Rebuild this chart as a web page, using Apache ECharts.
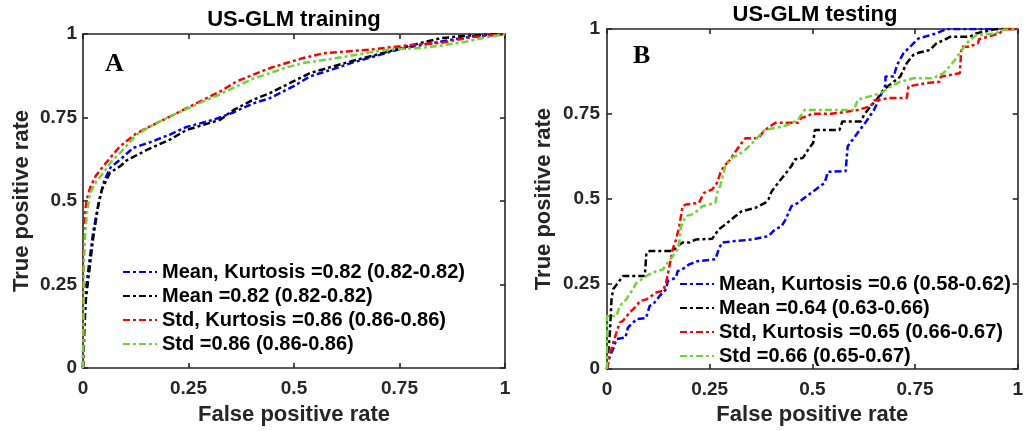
<!DOCTYPE html>
<html><head><meta charset="utf-8">
<script src="https://cdn.jsdelivr.net/npm/echarts@6/dist/echarts.min.js"></script>
<style>html,body{margin:0;padding:0;background:#fff}#c{width:1026px;height:431px}</style>
</head><body><div id="c"></div>
<script>
// ---- data ----
const tickLabels = ['0', '0.25', '0.5', '0.75', '1'];
const panelTitles = ['US-GLM training', 'US-GLM testing'];
const panelLetters = ['A', 'B'];
const xName = 'False positive rate';
const yName = 'True positive rate';

const trainNames = ['Mean, Kurtosis =0.82 (0.82-0.82)', 'Mean =0.82 (0.82-0.82)', 'Std, Kurtosis =0.86 (0.86-0.86)', 'Std =0.86 (0.86-0.86)'];
const testNames = ['Mean, Kurtosis =0.6 (0.58-0.62)', 'Mean =0.64 (0.63-0.66)', 'Std, Kurtosis =0.65 (0.66-0.67)', 'Std =0.66 (0.65-0.67)'];
const seriesColors = ['#0000ff', '#000000', '#ff0000', '#6ed634'];

// training ROC points [fpr, tpr]
const trainMeanKurt = [[0,0],[0.003,0.1],[0.005,0.16],[0.009,0.256],[0.016,0.33],[0.024,0.405],[0.032,0.46],[0.04,0.51],[0.05,0.56],[0.065,0.6],[0.088,0.624],[0.119,0.659],[0.159,0.676],[0.206,0.699],[0.246,0.722],[0.309,0.743],[0.356,0.765],[0.403,0.792],[0.443,0.808],[0.498,0.843],[0.538,0.873],[0.593,0.895],[0.64,0.915],[0.696,0.935],[0.751,0.955],[0.814,0.97],[0.87,0.982],[0.924,0.993],[1,1]];
const trainMean = [[0,0],[0.002,0.12],[0.005,0.19],[0.012,0.26],[0.024,0.388],[0.036,0.487],[0.045,0.535],[0.064,0.585],[0.088,0.604],[0.104,0.622],[0.15,0.652],[0.206,0.684],[0.246,0.713],[0.325,0.743],[0.356,0.772],[0.403,0.803],[0.443,0.823],[0.498,0.858],[0.538,0.883],[0.593,0.903],[0.64,0.92],[0.696,0.938],[0.751,0.957],[0.8,0.973],[0.846,0.987],[0.9,0.994],[0.95,0.997],[1,1]];
const trainStdKurt = [[0,0],[0.001,0.2],[0.002,0.35],[0.004,0.45],[0.008,0.5],[0.017,0.54],[0.03,0.575],[0.048,0.604],[0.065,0.63],[0.088,0.664],[0.127,0.703],[0.166,0.728],[0.206,0.753],[0.246,0.778],[0.285,0.803],[0.325,0.828],[0.364,0.858],[0.403,0.878],[0.443,0.898],[0.482,0.913],[0.522,0.928],[0.569,0.942],[0.62,0.947],[0.68,0.953],[0.74,0.962],[0.8,0.97],[0.846,0.973],[0.917,0.99],[1,1]];
const trainStd = [[0,0],[0.001,0.12],[0.002,0.3],[0.005,0.4],[0.01,0.47],[0.017,0.524],[0.03,0.555],[0.048,0.584],[0.065,0.615],[0.088,0.644],[0.127,0.699],[0.166,0.728],[0.206,0.753],[0.246,0.776],[0.285,0.798],[0.325,0.82],[0.364,0.843],[0.403,0.866],[0.443,0.883],[0.482,0.9],[0.522,0.913],[0.569,0.922],[0.62,0.932],[0.68,0.945],[0.74,0.955],[0.8,0.958],[0.846,0.965],[0.9,0.975],[0.94,0.986],[1,1]];

// testing ROC points [fpr, tpr]
const testMeanKurt = [[0,0],[0.003,0],[0.007,0.039],[0.015,0.059],[0.023,0.088],[0.045,0.093],[0.051,0.122],[0.072,0.147],[0.095,0.15],[0.104,0.186],[0.112,0.19],[0.128,0.215],[0.144,0.235],[0.148,0.259],[0.168,0.269],[0.172,0.288],[0.188,0.297],[0.2,0.308],[0.22,0.317],[0.264,0.323],[0.272,0.352],[0.28,0.372],[0.3,0.375],[0.353,0.381],[0.393,0.391],[0.409,0.411],[0.425,0.42],[0.435,0.44],[0.449,0.479],[0.465,0.489],[0.497,0.518],[0.53,0.548],[0.538,0.58],[0.581,0.582],[0.586,0.655],[0.61,0.694],[0.634,0.733],[0.65,0.762],[0.658,0.782],[0.678,0.836],[0.678,0.86],[0.698,0.86],[0.706,0.894],[0.722,0.929],[0.738,0.948],[0.758,0.972],[0.802,0.987],[0.827,1],[1,1]];
const testMean = [[0,0],[0.003,0.05],[0.007,0.107],[0.011,0.205],[0.015,0.235],[0.027,0.254],[0.039,0.274],[0.092,0.274],[0.096,0.342],[0.104,0.347],[0.16,0.347],[0.172,0.362],[0.184,0.372],[0.2,0.372],[0.216,0.381],[0.256,0.383],[0.272,0.411],[0.288,0.425],[0.313,0.45],[0.328,0.464],[0.361,0.474],[0.385,0.489],[0.393,0.499],[0.401,0.523],[0.417,0.548],[0.433,0.572],[0.449,0.597],[0.457,0.616],[0.477,0.621],[0.49,0.646],[0.502,0.665],[0.506,0.703],[0.566,0.703],[0.573,0.728],[0.618,0.728],[0.626,0.748],[0.642,0.773],[0.658,0.795],[0.674,0.822],[0.698,0.845],[0.714,0.86],[0.73,0.9],[0.746,0.924],[0.758,0.93],[0.786,0.938],[0.802,0.958],[0.818,0.966],[0.835,0.977],[0.883,0.977],[0.899,0.987],[0.947,1],[1,1]];
const testStdKurt = [[0,0],[0.003,0.029],[0.007,0.044],[0.015,0.078],[0.023,0.107],[0.031,0.137],[0.039,0.142],[0.055,0.166],[0.072,0.186],[0.08,0.2],[0.096,0.205],[0.12,0.225],[0.136,0.23],[0.144,0.254],[0.152,0.303],[0.16,0.352],[0.168,0.381],[0.176,0.42],[0.184,0.479],[0.192,0.484],[0.224,0.489],[0.236,0.518],[0.256,0.528],[0.268,0.548],[0.276,0.577],[0.284,0.596],[0.3,0.616],[0.313,0.64],[0.328,0.665],[0.337,0.679],[0.369,0.679],[0.381,0.699],[0.397,0.714],[0.41,0.724],[0.465,0.724],[0.473,0.739],[0.489,0.743],[0.498,0.751],[0.545,0.751],[0.562,0.753],[0.61,0.762],[0.642,0.773],[0.65,0.79],[0.69,0.797],[0.73,0.797],[0.734,0.831],[0.75,0.835],[0.779,0.841],[0.81,0.845],[0.813,0.86],[0.859,0.87],[0.863,0.948],[0.881,0.948],[0.903,0.958],[0.906,0.97],[0.955,0.987],[0.967,1],[1,1]];
const testStd = [[0,0],[0,0.156],[0.023,0.156],[0.031,0.186],[0.047,0.205],[0.063,0.235],[0.072,0.254],[0.096,0.274],[0.12,0.288],[0.136,0.293],[0.148,0.313],[0.16,0.332],[0.172,0.352],[0.176,0.372],[0.18,0.42],[0.192,0.45],[0.208,0.455],[0.224,0.469],[0.232,0.479],[0.264,0.489],[0.268,0.518],[0.276,0.54],[0.288,0.596],[0.304,0.621],[0.32,0.63],[0.337,0.645],[0.35,0.66],[0.369,0.684],[0.385,0.704],[0.41,0.709],[0.441,0.718],[0.465,0.733],[0.481,0.762],[0.602,0.762],[0.61,0.792],[0.666,0.811],[0.69,0.83],[0.714,0.845],[0.746,0.855],[0.794,0.855],[0.819,0.87],[0.838,0.895],[0.859,0.929],[0.875,0.958],[0.899,0.982],[0.946,0.987],[0.963,0.997],[1,1]];

const trainData = [trainMeanKurt, trainMean, trainStdKurt, trainStd];
const testData = [testMeanKurt, testMean, testStdKurt, testStd];

// ---- chart ----
const FONT = 'Liberation Sans';
const AX = '#262626';
const dash = [7, 3, 3, 3];

function xAx(gi, pos, show, nameGap) {
  return {
    type: 'value', gridIndex: gi, position: pos, min: 0, max: 1, interval: 0.25,
    name: show ? xName : '', nameLocation: 'middle', nameGap: nameGap,
    nameTextStyle: { fontFamily: FONT, fontWeight: 'bold', fontSize: 22, color: AX },
    axisLine: { show: true, onZero: false, lineStyle: { color: AX, width: 1.6 } },
    axisTick: { show: true, inside: true, length: 5, lineStyle: { color: AX, width: 1.6 } },
    axisLabel: { show: show, margin: 11, fontFamily: FONT, fontWeight: 'bold', fontSize: 19, color: AX,
      formatter: v => tickLabels[Math.round(v * 4)] },
    splitLine: { show: false }
  };
}
function yAx(gi, pos, show, nameGap, margin) {
  return {
    type: 'value', gridIndex: gi, position: pos, min: 0, max: 1, interval: 0.25,
    name: show ? yName : '', nameLocation: 'middle', nameGap: nameGap,
    nameTextStyle: { fontFamily: FONT, fontWeight: 'bold', fontSize: 22, color: AX },
    axisLine: { show: true, onZero: false, lineStyle: { color: AX, width: 1.6 } },
    axisTick: { show: true, inside: true, length: 5, lineStyle: { color: AX, width: 1.6 } },
    axisLabel: { show: show, margin: margin, fontFamily: FONT, fontWeight: 'bold', fontSize: 19, color: AX,
      formatter: v => tickLabels[Math.round(v * 4)] },
    splitLine: { show: false }
  };
}

const series = [];
trainData.forEach((d, i) => series.push({
  type: 'line', name: trainNames[i], data: d, xAxisIndex: 0, yAxisIndex: 0,
  symbol: 'none', showSymbol: false, color: seriesColors[i],
  lineStyle: { color: seriesColors[i], width: 2.5, type: dash }, animation: false
}));
testData.forEach((d, i) => series.push({
  type: 'line', name: testNames[i], data: d, xAxisIndex: 2, yAxisIndex: 2,
  symbol: 'none', showSymbol: false, color: seriesColors[i],
  lineStyle: { color: seriesColors[i], width: 2.5, type: dash }, animation: false
}));

const legendCommon = {
  orient: 'vertical', itemWidth: 34, itemHeight: 14, itemGap: 4, padding: 0,
  backgroundColor: 'transparent', borderWidth: 0, selectedMode: false,
  itemStyle: { color: 'transparent', borderColor: 'transparent', borderWidth: 0, opacity: 0 },
  textStyle: { fontFamily: FONT, fontWeight: 'bold', fontSize: 20, color: '#000' }
};

const option = {
  animation: false,
  backgroundColor: '#fff',
  title: [
    { text: panelTitles[0], left: 294, top: 9, textAlign: 'center', padding: 0,
      textStyle: { fontFamily: FONT, fontWeight: 'bold', fontSize: 22, color: '#000' } },
    { text: panelTitles[1], left: 815, top: 4, textAlign: 'center', padding: 0,
      textStyle: { fontFamily: FONT, fontWeight: 'bold', fontSize: 22, color: '#000' } },
    { text: panelLetters[0], left: 105, top: 51, padding: 0,
      textStyle: { fontFamily: 'Liberation Serif', fontWeight: 'bold', fontSize: 26, color: '#000' } },
    { text: panelLetters[1], left: 633, top: 43, padding: 0,
      textStyle: { fontFamily: 'Liberation Serif', fontWeight: 'bold', fontSize: 26, color: '#000' } }
  ],
  grid: [
    { left: 83, top: 34, width: 422, height: 335 },
    { left: 607, top: 29, width: 415, height: 341 }
  ],
  xAxis: [xAx(0, 'bottom', true, 36), xAx(0, 'top', false, 0), xAx(1, 'bottom', true, 27), xAx(1, 'top', false, 0)],
  yAxis: [yAx(0, 'left', true, 50, 6), yAx(0, 'right', false, 0, 6), yAx(1, 'left', true, 52, 7), yAx(1, 'right', false, 0, 7)],
  legend: [
    Object.assign({}, legendCommon, { data: trainNames, left: 122, top: 262 }),
    Object.assign({}, legendCommon, { data: testNames, left: 679, top: 274 })
  ],
  series: series
};

const chart = echarts.init(document.getElementById('c'), null, { renderer: 'canvas' });
chart.setOption(option);
</script>
</body></html>
